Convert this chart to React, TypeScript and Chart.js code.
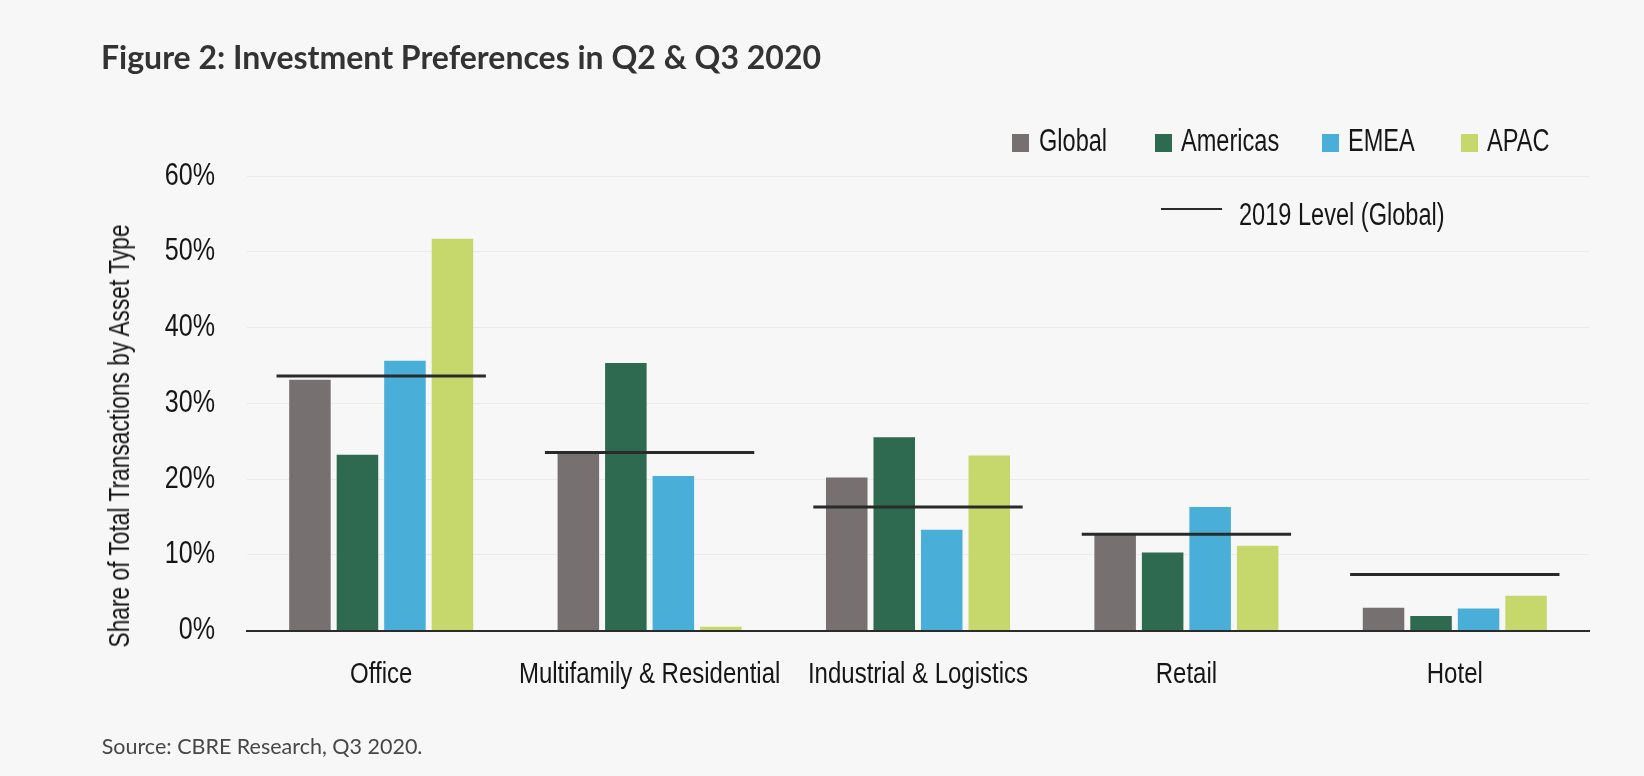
import React, { useEffect, useRef } from "react";
import { Chart, registerables } from "chart.js";

Chart.register(...registerables);

// ---------- data ----------
const categories = ["Office", "Multifamily & Residential", "Industrial & Logistics", "Retail", "Hotel"];
const seriesNames = ["Global", "Americas", "EMEA", "APAC"];
const globalShare = [33.1, 23.5, 20.2, 12.7, 3.0];
const americasShare = [23.2, 35.3, 25.5, 10.3, 1.9];
const emeaShare = [35.6, 20.4, 13.3, 16.3, 2.9];
const apacShare = [51.7, 0.5, 23.1, 11.2, 4.6];
const level2019Global = [33.6, 23.5, 16.3, 12.7, 7.4];
const levelLabel = "2019 Level (Global)";
const yTicks = [0, 10, 20, 30, 40, 50, 60];
const titleText = "Figure 2: Investment Preferences in Q2 & Q3 2020";
const yTitleText = "Share of Total Transactions by Asset Type";
const sourceText = "Source: CBRE Research, Q3 2020.";

// ---------- style ----------
const seriesColors = ["#767170", "#2d6a50", "#4aafd8", "#c6d86c"];
const SANS = "'Liberation Sans', Arial, sans-serif";
const BG = "#f7f7f7";
const TEXT = "#161616";
const LEVEL_HALF = 0.39;
const CONDENSE = 0.8;

// draws the 2019 level segments through the chart's scales
const levelLinePlugin = {
  id: "levelLine",
  afterDatasetsDraw(chart: any) {
    const { ctx, scales } = chart;
    const x = scales.x;
    const y = scales.y;
    ctx.save();
    ctx.strokeStyle = "#2a2a2a";
    ctx.lineWidth = 3;
    ctx.lineCap = "butt";
    level2019Global.forEach((v, i) => {
      const cx = x.getPixelForValue(i);
      const half = (x.getPixelForValue(1) - x.getPixelForValue(0)) * LEVEL_HALF;
      const py = y.getPixelForValue(v);
      ctx.beginPath();
      ctx.moveTo(cx - half, py);
      ctx.lineTo(cx + half, py);
      ctx.stroke();
    });
    ctx.restore();
  },
};

// condensed tick labels (horizontally compressed text) positioned by the scales
const condensedTicksPlugin = {
  id: "condensedTicks",
  afterDraw(chart: any) {
    const { ctx, scales } = chart;
    const x = scales.x;
    const y = scales.y;
    ctx.save();
    ctx.fillStyle = TEXT;
    ctx.font = `30px ${SANS}`;
    ctx.textAlign = "center";
    ctx.textBaseline = "alphabetic";
    x.ticks.forEach((t: any, i: number) => {
      const label = String(x.getLabelForValue(t.value));
      const w = ctx.measureText(label).width;
      ctx.fillText(label, x.getPixelForTick(i), x.top + 52.5, w * CONDENSE);
    });
    ctx.font = `31px ${SANS}`;
    ctx.textAlign = "right";
    ctx.textBaseline = "middle";
    y.ticks.forEach((t: any) => {
      const label = `${t.value}%`;
      const w = ctx.measureText(label).width;
      ctx.fillText(label, y.right - 32, y.getPixelForValue(t.value), w * 0.81);
    });
    ctx.restore();
  },
};

export default function App() {
  const canvasRef = useRef<HTMLCanvasElement | null>(null);

  useEffect(() => {
    const canvas = canvasRef.current;
    if (!canvas) return;
    const seriesValues = [globalShare, americasShare, emeaShare, apacShare];

    const chart = new Chart(canvas, {
      type: "bar",
      data: {
        labels: categories,
        datasets: seriesNames.map((name, k) => ({
          label: name,
          data: seriesValues[k],
          backgroundColor: seriesColors[k],
          borderWidth: 0,
          categoryPercentage: 0.708,
          barPercentage: 0.874,
        })),
      },
      options: {
        responsive: false,
        animation: false,
        devicePixelRatio: 1,
        layout: { padding: { left: 0, right: 55, top: 176, bottom: 85.5 } },
        plugins: {
          legend: { display: false },
          title: { display: false },
          tooltip: { enabled: false },
        },
        scales: {
          x: {
            type: "category",
            grid: { display: false, drawTicks: false },
            border: { display: true, color: "#2b2b2b", width: 2, z: 1 } as any,
            ticks: { display: false, autoSkip: false },
            afterFit: (scale: any) => {
              scale.height = 60;
            },
          },
          y: {
            type: "linear",
            min: 0,
            max: 60,
            grid: {
              drawTicks: false,
              color: (ctx: any) => (ctx.tick && ctx.tick.value === 0 ? "rgba(0,0,0,0)" : "#ebebeb"),
              lineWidth: 1,
            },
            border: { display: false },
            ticks: { display: false },
            afterBuildTicks: (scale: any) => {
              scale.ticks = yTicks.map((v) => ({ value: v }));
            },
            afterFit: (scale: any) => {
              scale.width = 247;
            },
          },
        },
      } as any,
      plugins: [levelLinePlugin, condensedTicksPlugin],
    });
    return () => chart.destroy();
  }, []);

  const legendBoxLeft = [1012, 1155, 1322, 1461];
  const legendTextLeft = [1039, 1181, 1348, 1487];
  const LEG = 31;

  const legendText = (left: number, baseline: number, text: string, key?: string) => (
    <div
      key={key}
      style={{
        position: "absolute",
        left,
        top: baseline - 0.8465 * LEG,
        fontFamily: SANS,
        fontSize: LEG,
        lineHeight: 1,
        color: TEXT,
        whiteSpace: "nowrap",
        transformOrigin: "0 0",
        transform: "scaleX(0.76)",
      }}
    >
      {text}
    </div>
  );

  return (
    <div
      style={{
        position: "absolute",
        left: 0,
        top: 0,
        width: 1644,
        height: 776,
        background: BG,
        overflow: "hidden",
      }}
    >
      <canvas ref={canvasRef} width={1644} height={776} style={{ position: "absolute", left: 0, top: 0, width: 1644, height: 776 }} />
      <div
        style={{
          position: "absolute",
          left: 101,
          top: 69 - 0.887 * 32,
          fontFamily: "Lato, 'Open Sans', sans-serif",
          fontWeight: 700,
          fontSize: 32,
          lineHeight: 1,
          color: "#333333",
          whiteSpace: "nowrap",
        }}
      >
        {titleText}
      </div>
      <div
        style={{
          position: "absolute",
          left: 130 - 0.8465 * 29,
          top: 436,
          transformOrigin: "0 0",
          transform: "rotate(-90deg) scaleX(0.785) translateX(-50%)",
          fontFamily: SANS,
          fontSize: 29,
          lineHeight: 1,
          color: TEXT,
          whiteSpace: "nowrap",
        }}
      >
        {yTitleText}
      </div>
      {seriesNames.map((name, k) => (
        <React.Fragment key={name}>
          <div
            style={{
              position: "absolute",
              left: legendBoxLeft[k],
              top: 134,
              width: 17,
              height: 18,
              background: seriesColors[k],
            }}
          />
          {legendText(legendTextLeft[k], 151.7, name)}
        </React.Fragment>
      ))}
      <div style={{ position: "absolute", left: 1161, top: 207.5, width: 61, height: 2.5, background: "#2a2a2a" }} />
      {legendText(1239, 225, levelLabel)}
      <div
        style={{
          position: "absolute",
          left: 101.7,
          top: 755 - 0.887 * 21.5,
          fontFamily: "Lato, 'Open Sans', sans-serif",
          fontSize: 21.5,
          lineHeight: 1,
          color: "#474747",
          whiteSpace: "nowrap",
        }}
      >
        {sourceText}
      </div>
    </div>
  );
}
